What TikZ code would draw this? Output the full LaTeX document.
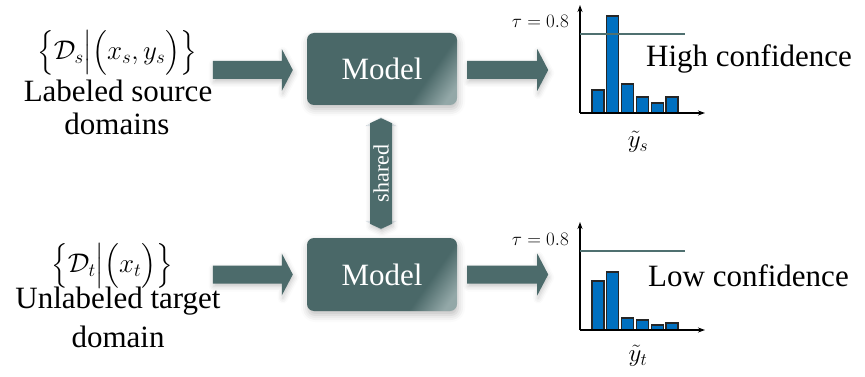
\RequirePackage{fix-cm}
\documentclass[tikz,border=0pt]{standalone}
\usepackage{amsmath}
\usepackage{fontspec}
\setmainfont{Liberation Serif}
\newfontfamily\libserif{Liberation Serif}
\usetikzlibrary{calc,arrows.meta,shadows.blur}
\definecolor{boxc}{HTML}{4A6868}
\definecolor{boxlight}{HTML}{93A8A8}
\definecolor{arrc}{HTML}{4C6B6B}
\definecolor{headc}{HTML}{E4EAEE}
\definecolor{barc}{HTML}{0070C0}
\definecolor{thrc}{HTML}{4F7070}
\pgfdeclarehorizontalshading{boxshade}{100bp}{color(0bp)=(boxc); color(68bp)=(boxc); color(80bp)=(boxlight); color(100bp)=(boxlight)}
\newcommand\harrow[2]{\fill[arrowfill] ($(#1)+(0,-9)$) -- ($(#2)+(-11,-9)$) -- ($(#2)+(-11,-21)$) -- (#2) -- ($(#2)+(-11,21)$) -- ($(#2)+(-11,9)$) -- ($(#1)+(0,9)$) -- cycle;}
\newcommand\vdarrow[2]{%
  \fill[headc] (#1) -- ($(#1)+(16,9)$) -- ($(#1)+(-16,9)$) -- cycle;
  \fill[headc] (#2) -- ($(#2)+(16,-9)$) -- ($(#2)+(-16,-9)$) -- cycle;
  \fill[arrowfill] ($(#1)+(0,1)$) -- ($(#1)+(11,6)$) -- ($(#2)+(11,-6)$) -- ($(#2)+(0,-1)$) -- ($(#2)+(-11,-6)$) -- ($(#1)+(-11,6)$) -- cycle;}
\tikzset{
  modelbox/.style={rounded corners=7pt, minimum width=150pt, minimum height=72pt, inner sep=0pt,
    text=white, font=\libserif\fontsize{31}{36}\selectfont, shading=boxshade, shading angle=-35,
    blur shadow={shadow xshift=1pt, shadow yshift=-4pt, shadow blur radius=7pt, shadow opacity=25}},
  arrowfill/.style={fill=arrc, blur shadow={shadow xshift=1pt, shadow yshift=-3pt, shadow blur radius=5pt, shadow opacity=22}},
  bigtext/.style={inner sep=0pt, font=\libserif\fontsize{31}{36}\selectfont},
  mathtext/.style={inner sep=0pt, font=\fontsize{27}{32}\selectfont},
  taulabel/.style={inner sep=0pt, anchor=base east, font=\fontsize{19}{22}\selectfont},
  ylabel/.style={inner sep=0pt, font=\fontsize{25}{28}\selectfont},
  bar/.style={fill=barc, draw=black!85, line width=1.1pt},
  axis/.style={line width=1.4pt, -{Stealth[length=7pt,width=5pt]}},
  thr/.style={thrc, line width=2.6pt},
  sharedtext/.style={inner sep=0pt, text=white, rotate=90, font=\libserif\fontsize{22}{24}\selectfont}
}
\begin{document}
\begin{tikzpicture}[x=1pt,y=-1pt]
\useasboundingbox (0,0) rectangle (865,377);
% model boxes
\node[modelbox] (m1) at (382,69) {Model};
\node[modelbox, minimum height=73pt] (m2) at (382,274.5) {Model};
% left texts
\node[mathtext] (srcmath) at (117,52.5) {$\Big\{\mathcal{D}_s\Big|\Big(x_s,y_s\Big)\Big\}$};
\node[bigtext, anchor=base] (src1) at (118,102) {Labeled source};
\node[bigtext, anchor=base] (src2) at (117,135) {domains};
\node[mathtext] (tgtmath) at (112,266) {$\Big\{\mathcal{D}_t\Big|\Big(x_t\Big)\Big\}$};
\node[bigtext, anchor=base] (tgt1) at (118,308) {Unlabeled target};
\node[bigtext, anchor=base] (tgt2) at (118,347) {domain};
% block arrows
\coordinate (a1s) at ($(m1.west)+(-94,1)$);
\coordinate (a1e) at ($(m1.west)+(-14,1)$);
\coordinate (a2s) at ($(m1.east)+(10,1)$);
\coordinate (a2e) at ($(m1.east)+(91,1)$);
\coordinate (a3s) at ($(m2.west)+(-94,0)$);
\coordinate (a3e) at ($(m2.west)+(-14,0)$);
\coordinate (a4s) at ($(m2.east)+(10,0)$);
\coordinate (a4e) at ($(m2.east)+(91,0)$);
\harrow{a1s}{a1e}
\harrow{a2s}{a2e}
\harrow{a3s}{a3e}
\harrow{a4s}{a4e}
% shared arrow
\coordinate (sht) at ($(m1.south)+(-1,12)$);
\coordinate (shb) at ($(m2.north)+(-1,-8)$);
\vdarrow{sht}{shb}
\node[sharedtext] (shared) at ($(sht)!0.5!(shb)$) {shared};
% top chart
\coordinate (o1) at (580,113);
\coordinate (y1) at (580,5);
\coordinate (x1) at (705,113);
\foreach \i/\t in {0/90,1/16,2/84,3/97,4/103,5/97}{
  \draw[bar] ($(o1)+(12+14.8*\i,0)$) rectangle ($(o1)+(24+14.8*\i,0)+(0,\t-113)$);
}
\draw[axis] (o1) -- (y1);
\draw[axis] (o1) -- (x1);
\coordinate (t1a) at (580,34);
\coordinate (t1b) at (685,34);
\draw[thr] (t1a) -- (t1b);
\node[taulabel] (tau1) at (569,28) {$\tau=0.8$};
\node[bigtext, anchor=base west] (high) at (646,67) {High confidence};
\node[ylabel] (ys) at (638,142) {$\tilde{y}_s$};
% bottom chart
\coordinate (o2) at (580,330);
\coordinate (y2) at (580,222);
\coordinate (x2) at (705,330);
\foreach \i/\t in {0/281,1/272,2/318,3/320,4/325,5/323}{
  \draw[bar] ($(o2)+(12+14.8*\i,0)$) rectangle ($(o2)+(24+14.8*\i,0)+(0,\t-330)$);
}
\draw[axis] (o2) -- (y2);
\draw[axis] (o2) -- (x2);
\coordinate (t2a) at (580,251);
\coordinate (t2b) at (685,251);
\draw[thr] (t2a) -- (t2b);
\node[taulabel] (tau2) at (569,245) {$\tau=0.8$};
\node[bigtext, anchor=base west] (low) at (648,286) {Low confidence};
\node[ylabel] (yt) at (638,356) {$\tilde{y}_t$};
\end{tikzpicture}
\end{document}
